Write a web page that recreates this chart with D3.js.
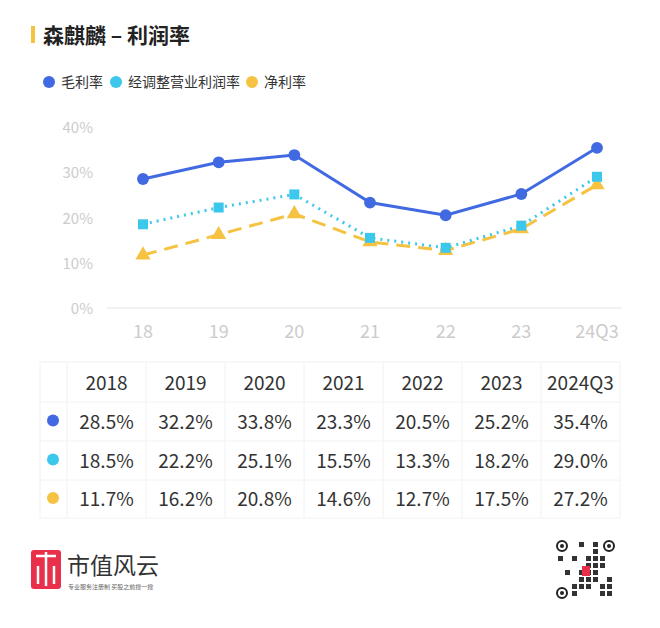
<!DOCTYPE html>
<html><head><meta charset="utf-8">
<script src="https://cdn.jsdelivr.net/npm/d3@7"></script>
<style>body{margin:0;background:#fff;}text{font-family:"Noto Sans CJK SC","Noto Sans",sans-serif;}</style>
</head><body><svg id="c" width="660" height="628"></svg>
<script>
var categories = ['18','19','20','21','22','23','24Q3'],
    years = ['2018','2019','2020','2021','2022','2023','2024Q3'],
    gross = [28.5,32.2,33.8,23.3,20.5,25.2,35.4],
    adjOp = [18.5,22.2,25.1,15.5,13.3,18.2,29.0],
    net = [11.7,16.2,20.8,14.6,12.7,17.5,27.2],
    yTicks = [0,10,20,30,40];
var series = [
  {name:'毛利率', values:gross, color:'#4169e1', dash:null, marker:'circle'},
  {name:'经调整营业利润率', values:adjOp, color:'#3cc8ec', dash:'2,5', marker:'square'},
  {name:'净利率', values:net, color:'#f5c242', dash:'14,8', marker:'triangle'}
];
var svg = d3.select('#c');

// title
svg.append('rect').attr('x',31).attr('y',26).attr('width',4).attr('height',17).attr('fill','#f5c242');
svg.append('text').attr('x',43).attr('y',43).attr('font-size',21).attr('font-weight',700).attr('fill','#222').text('森麒麟 – 利润率');

// legend
var lx = [49, 116, 252];
series.forEach(function(s,i){
  var g = svg.append('g').attr('transform','translate('+lx[i]+',82)');
  g.append('circle').attr('r',6).attr('fill',s.color);
  g.append('text').attr('x',12).attr('y',5).attr('font-size',14).attr('fill','#333').text(s.name);
});

var x = d3.scalePoint().domain(categories).range([143,597]),
    y = d3.scaleLinear().domain([0,40]).range([308,127]);

svg.append('line').attr('x1',107).attr('x2',622).attr('y1',y(0)).attr('y2',y(0)).attr('stroke','#eee').attr('stroke-width',1.5);
svg.append('g').selectAll('text').data(yTicks).enter().append('text')
  .attr('x',93).attr('y',function(d){return y(d)+6;}).attr('text-anchor','end')
  .attr('font-size',15).attr('fill','#ccc').text(function(d){return d+'%';});
svg.append('g').selectAll('text').data(categories).enter().append('text')
  .attr('x',function(d){return x(d);}).attr('y',338).attr('text-anchor','middle')
  .attr('font-size',18).attr('fill','#ccc').text(function(d){return d;});

var line = d3.line().x(function(d,i){return x(categories[i]);}).y(function(d){return y(d);});
series.slice().reverse().forEach(function(s){
  svg.append('path').datum(s.values).attr('d',line).attr('fill','none')
    .attr('stroke',s.color).attr('stroke-width',3).attr('stroke-dasharray',s.dash);
  var sym = s.marker=='circle'?d3.symbolCircle:(s.marker=='square'?d3.symbolSquare:d3.symbolTriangle);
  svg.append('g').selectAll('path').data(s.values).enter().append('path')
    .attr('d',d3.symbol().type(sym).size(s.marker=='circle'?110:100))
    .attr('transform',function(d,i){return 'translate('+x(categories[i])+','+y(d)+')';})
    .attr('fill',s.color);
});

// table
var colX = d3.scaleBand().domain(years).range([67,620]);
var rowY = [362,402,441,480,518];
var tg = svg.append('g');
tg.append('rect').attr('x',40).attr('y',rowY[0]).attr('width',580).attr('height',rowY[4]-rowY[0]).attr('fill','none').attr('stroke','#f2f2f2');
rowY.slice(1,4).forEach(function(r){tg.append('line').attr('x1',40).attr('x2',620).attr('y1',r).attr('y2',r).attr('stroke','#f2f2f2');});
years.forEach(function(yr){tg.append('line').attr('x1',colX(yr)).attr('x2',colX(yr)).attr('y1',rowY[0]).attr('y2',rowY[4]).attr('stroke','#f2f2f2');});
tg.selectAll('.h').data(years).enter().append('text')
  .attr('x',function(d){return colX(d)+colX.bandwidth()/2;}).attr('y',390).attr('text-anchor','middle')
  .attr('font-size',19).attr('fill','#333').text(function(d){return d;});
series.forEach(function(s,i){
  var cy = (rowY[i+1]+rowY[i+2])/2;
  tg.append('circle').attr('cx',53).attr('cy',cy-1).attr('r',6).attr('fill',s.color);
  tg.append('g').selectAll('text').data(s.values).enter().append('text')
    .attr('x',function(d,j){return colX(years[j])+colX.bandwidth()/2;}).attr('y',cy+7)
    .attr('text-anchor','middle').attr('font-size',19).attr('fill','#333')
    .text(function(d){return d.toFixed(1)+'%';});
});

// footer logo
svg.append('rect').attr('x',31).attr('y',550).attr('width',30).attr('height',39).attr('rx',3).attr('fill','#e8304a');
svg.append('path').attr('d','M36 556 L56 556 M46 552 L46 586 M38 566 L38 584 M54 566 L54 584').attr('stroke','#fff').attr('stroke-width',2.5).attr('fill','none');
svg.append('text').attr('x',67).attr('y',574).attr('font-size',23).attr('fill','#333').text('市值风云');
svg.append('text').attr('x',68).attr('y',589).attr('font-size',6).attr('fill','#666').text('专业服务注册制 买股之前搜一搜');

// QR-like decoration
var qr = svg.append('g').attr('transform','translate(556,540)');
qr.append('rect').attr('width',60).attr('height',60).attr('fill','#fff');
[[0,0],[47,0],[0,47]].forEach(function(p){
  qr.append('circle').attr('cx',p[0]+6).attr('cy',p[1]+6).attr('r',5).attr('fill','none').attr('stroke','#222').attr('stroke-width',2);
  qr.append('circle').attr('cx',p[0]+6).attr('cy',p[1]+6).attr('r',2).attr('fill','#222');
});
var bits = '1011010011100101101001110010110100111001011010011100101101001110';
for (var r=0;r<8;r++) for (var c=0;c<8;c++){
  if ((r<2&&c<2)||(r<2&&c>5)||(r>5&&c<2)) continue;
  if (bits[(r*8+c*3)%64]=='1') qr.append('rect').attr('x',c*7+2).attr('y',r*7+2).attr('width',5).attr('height',5).attr('fill','#333');
}
qr.append('rect').attr('x',26).attr('y',26).attr('width',8).attr('height',10).attr('fill','#e8304a');
</script></body></html>
